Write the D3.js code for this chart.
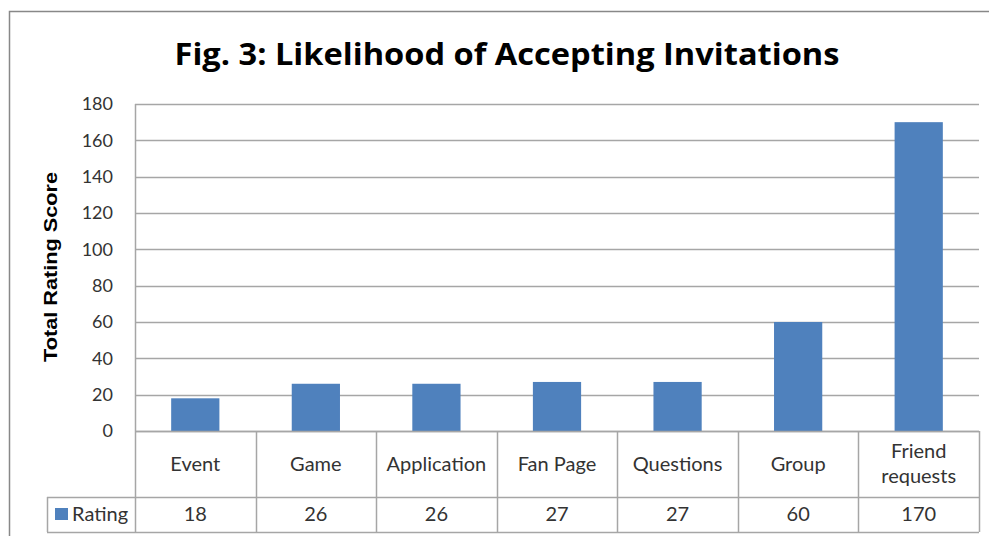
<!DOCTYPE html>
<html>
<head>
<meta charset="utf-8">
<script src="https://cdn.jsdelivr.net/npm/d3@7"></script>
<style>
  body { margin: 0; background: #fff; }
  svg { display: block; }
</style>
</head>
<body>
<div id="chart"></div>
<script>
// Chart data
const categories = ['Event', 'Game', 'Application', 'Fan Page', 'Questions', 'Group', 'Friend requests'];
const ratings = [18, 26, 26, 27, 27, 60, 170];
const yTicks = [0, 20, 40, 60, 80, 100, 120, 140, 160, 180];
const seriesName = 'Rating';
const chartTitle = 'Fig. 3: Likelihood of Accepting Invitations';
const yTitle = 'Total Rating Score';

const width = 989, height = 536;
const plot = { left: 135, right: 979, top: 104, bottom: 431 };
const rowCat = 497, rowVal = 532, legendLeft = 47;
const gridColor = '#a6a6a6';
const barColor = '#4f81bd';
const font = 'Lato, "Open Sans", sans-serif';

const svg = d3.select('#chart')
  .append('svg')
    .attr('width', width)
    .attr('height', height);

// Outer chart border
svg.append('rect')
  .attr('x', 9.5).attr('y', 11.5)
  .attr('width', width + 20).attr('height', height + 20)
  .attr('fill', 'none')
  .attr('stroke', '#888')
  .attr('stroke-width', 1.5);

// Title
svg.append('text')
  .attr('x', 507).attr('y', 65)
  .attr('text-anchor', 'middle')
  .attr('font-family', '"Open Sans", Lato, sans-serif')
  .attr('font-weight', 'bold')
  .attr('font-size', 31)
  .attr('textLength', 665)
  .attr('lengthAdjust', 'spacingAndGlyphs')
  .attr('fill', '#000')
  .text(chartTitle);

// Scales
const x = d3.scaleBand()
  .domain(categories)
  .range([plot.left, plot.right])
  .paddingInner(0.6)
  .paddingOuter(0.3);

const cell = d3.scaleBand()
  .domain(categories)
  .range([plot.left, plot.right]);

const y = d3.scaleLinear()
  .domain([0, 180])
  .range([plot.bottom, plot.top]);

// Gridlines
svg.append('g')
  .selectAll('line')
  .data(yTicks)
  .join('line')
    .attr('x1', plot.left).attr('x2', plot.right)
    .attr('y1', (d) => Math.round(y(d)) + 0.5)
    .attr('y2', (d) => Math.round(y(d)) + 0.5)
    .attr('stroke', gridColor)
    .attr('stroke-width', 1.5);

// Y axis line
svg.append('line')
  .attr('x1', plot.left + 0.5).attr('x2', plot.left + 0.5)
  .attr('y1', plot.top).attr('y2', plot.bottom)
  .attr('stroke', gridColor)
  .attr('stroke-width', 1.5);

// Y tick labels
const yAxis = svg.append('g')
  .attr('transform', 'translate(' + plot.left + ',0)')
  .call(d3.axisLeft(y).tickValues(yTicks).tickSize(0).tickPadding(22));
yAxis.select('.domain').remove();
yAxis.selectAll('text')
  .attr('font-family', font)
  .attr('font-size', 18)
  .attr('fill', '#333');

// Y axis title
svg.append('text')
  .attr('transform', 'translate(57,' + 267 + ') rotate(-90)')
  .attr('text-anchor', 'middle')
  .attr('font-family', 'Liberation Sans, Arial, sans-serif')
  .attr('font-weight', 'bold')
  .attr('font-size', 19)
  .attr('textLength', 190)
  .attr('lengthAdjust', 'spacingAndGlyphs')
  .attr('fill', '#000')
  .text(yTitle);

// Bars
svg.append('g')
  .selectAll('rect')
  .data(ratings)
  .join('rect')
    .attr('x', (d, i) => x(categories[i]))
    .attr('y', (d) => y(d))
    .attr('width', x.bandwidth())
    .attr('height', (d) => y(0) - y(d))
    .attr('fill', barColor);

// Data table
const table = svg.append('g')
  .attr('stroke', gridColor)
  .attr('stroke-width', 1.5)
  .attr('fill', 'none');

// horizontal lines
table.append('line')
  .attr('x1', plot.left).attr('x2', plot.right)
  .attr('y1', plot.bottom + 0.5).attr('y2', plot.bottom + 0.5);
table.append('line')
  .attr('x1', legendLeft).attr('x2', plot.right)
  .attr('y1', rowCat + 0.5).attr('y2', rowCat + 0.5);
table.append('line')
  .attr('x1', legendLeft).attr('x2', plot.right)
  .attr('y1', rowVal + 0.5).attr('y2', rowVal + 0.5);
table.append('line')
  .attr('x1', legendLeft + 0.5).attr('x2', legendLeft + 0.5)
  .attr('y1', rowCat).attr('y2', rowVal);

// vertical cell borders
table.selectAll('.vcell')
  .data(categories.concat(['end']))
  .join('line')
    .attr('class', 'vcell')
    .attr('x1', (d, i) => Math.round(plot.left + i * cell.bandwidth()) + 0.5)
    .attr('x2', (d, i) => Math.round(plot.left + i * cell.bandwidth()) + 0.5)
    .attr('y1', plot.bottom).attr('y2', rowVal);

// category labels
const catLabels = svg.append('g')
  .selectAll('text')
  .data(categories)
  .join('text')
    .attr('x', (d) => cell(d) + cell.bandwidth() / 2)
    .attr('text-anchor', 'middle')
    .attr('font-family', font)
    .attr('font-size', 20)
    .attr('fill', '#333');

catLabels.each(function (d) {
  const words = d.split(' ');
  const t = d3.select(this);
  if (d === 'Friend requests') {
    t.append('tspan').attr('x', cell(d) + cell.bandwidth() / 2).attr('y', 458).text(words[0]);
    t.append('tspan').attr('x', cell(d) + cell.bandwidth() / 2).attr('y', 483).text(words[1]);
  } else {
    t.attr('y', 471).text(d);
  }
});

// value labels
svg.append('g')
  .selectAll('text')
  .data(ratings)
  .join('text')
    .attr('x', (d, i) => cell(categories[i]) + cell.bandwidth() / 2)
    .attr('y', 521)
    .attr('text-anchor', 'middle')
    .attr('font-family', font)
    .attr('font-size', 20)
    .attr('fill', '#333')
    .text((d) => d);

// legend key
svg.append('rect')
  .attr('x', 55).attr('y', 508)
  .attr('width', 13).attr('height', 12)
  .attr('fill', barColor);
svg.append('text')
  .attr('x', 72).attr('y', 521)
  .attr('font-family', font)
  .attr('font-size', 20)
  .attr('fill', '#333')
  .text(seriesName);
</script>
</body>
</html>
